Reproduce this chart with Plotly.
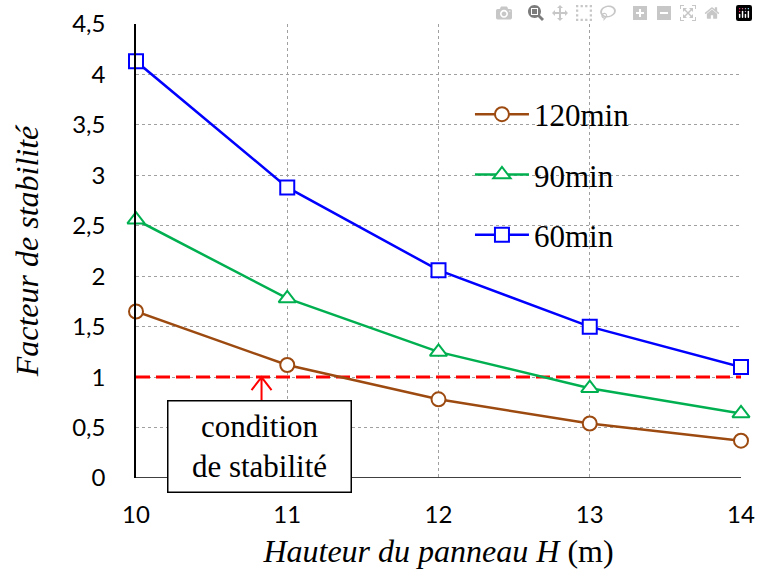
import plotly.graph_objects as go

hauteur = [10, 11, 12, 13, 14]
fs_120 = [1.65, 1.12, 0.78, 0.54, 0.37]
fs_90 = [2.56, 1.78, 1.25, 0.89, 0.64]
fs_60 = [4.13, 2.88, 2.06, 1.50, 1.10]
seuil = [1, 1]
seuil_x = [10, 14]
y_ticks = [0, 0.5, 1, 1.5, 2, 2.5, 3, 3.5, 4, 4.5]
y_tick_labels = ["0", "0,5", "1", "1,5", "2", "2,5", "3", "3,5", "4", "4,5"]
x_ticks = [10, 11, 12, 13, 14]
x_tick_labels = ["10", "11", "12", "13", "14"]

fig = go.Figure()

fig.add_trace(go.Scatter(x=seuil_x, y=seuil, mode="lines",
                         line=dict(color="#FF0000", width=3, dash="14px,6px"),
                         showlegend=False, hoverinfo="skip"))

series = [
    ("120min", fs_120, "#9C4A10", "circle", 14),
    ("90min", fs_90, "#00B050", "triangle-up", 15),
    ("60min", fs_60, "#0000FF", "square", 14),
]
for i, (name, vals, col, sym, sz) in enumerate(series):
    fig.add_trace(go.Scatter(
        x=hauteur, y=vals, mode="lines+markers", name=name,
        legendgroup=f"g{i}",
        line=dict(color=col, width=2.5),
        marker=dict(symbol=sym, size=sz, color="white", line=dict(color=col, width=2)),
        cliponaxis=False,
    ))

# arrow (open V) pointing to the stability threshold
fig.add_shape(type="path", xref="x", yref="y", xsizemode="pixel", ysizemode="pixel",
              xanchor=10.83, yanchor=1.0,
              path="M-10,-13 L0,0 L10,-13 M0,0 L0,-24",
              line=dict(color="#FF0000", width=2), layer="above")

fig.add_annotation(x=10.815, y=0.31, xref="x", yref="y",
                   text="condition<br>de stabilité", showarrow=False,
                   font=dict(family="Liberation Serif", size=31, color="black"),
                   bgcolor="white", bordercolor="black", borderwidth=1.5,
                   width=180, height=88, align="center")

fig.update_layout(
    width=758, height=570,
    margin=dict(l=136, r=17, t=24, b=92),
    plot_bgcolor="white", paper_bgcolor="white",
    font=dict(family="Lato", color="black"),
    legend=dict(x=0.552, y=0.86, xanchor="left", yanchor="top",
                font=dict(family="Liberation Serif", size=31, color="black"),
                bgcolor="rgba(0,0,0,0)", tracegroupgap=17, itemwidth=54),
    showlegend=True,
)

fig.update_xaxes(range=[10, 14], tickvals=x_ticks, ticktext=x_tick_labels,
                 tickfont=dict(family="Lato", size=24), automargin=False,
                 showgrid=True, gridcolor="#A0A0A0", griddash="3px,3px", gridwidth=1,
                 showline=False, zeroline=False, ticks="", ticklabelstandoff=20,
                 title=dict(text="<i>Hauteur du panneau H</i> (m)",
                            font=dict(family="Liberation Serif", size=32), standoff=12))
fig.update_yaxes(range=[0, 4.5], tickvals=y_ticks, ticktext=y_tick_labels,
                 tickfont=dict(family="Lato", size=24), automargin=False,
                 showgrid=True, gridcolor="#A0A0A0", griddash="3px,3px", gridwidth=1,
                 showline=True, linecolor="black", linewidth=1.5, zeroline=False,
                 ticks="", ticklabelstandoff=24,
                 title=dict(text="<i>Facteur de stabilité</i>",
                            font=dict(family="Liberation Serif", size=32), standoff=24))

fig.add_shape(type="line", xref="x", yref="y", x0=10, x1=14, y0=0, y1=0,
              line=dict(color="black", width=1.5), layer="above")

fig.write_html("out.html",
               post_script="document.body.style.margin='0';"
                           "document.documentElement.style.overflow='hidden';")
